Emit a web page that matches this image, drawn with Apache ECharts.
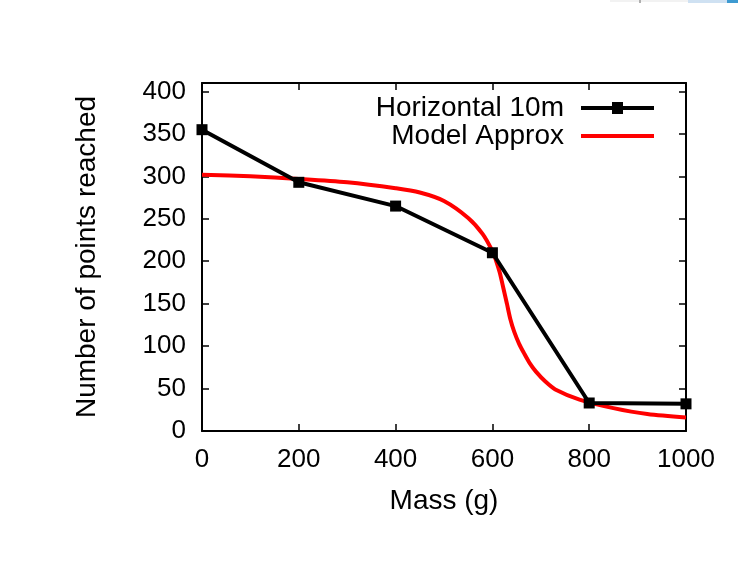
<!DOCTYPE html>
<html>
<head>
<meta charset="utf-8">
<script src="https://cdn.jsdelivr.net/npm/echarts@6/dist/echarts.min.js"></script>
<style>
    html, body { margin: 0; padding: 0; background: #fff; }
    #chart { width: 738px; height: 572px; }
</style>
</head>
<body>
<div id="chart"></div>
<script>
// measured points
let massValues = [0, 200, 400, 600, 800, 1000]
let horizontalValues = [355, 293, 265, 210, 33, 32]

// model curve
let modelMass = [0, 100, 200, 300, 400, 450, 500, 550, 580, 600, 608, 615, 622, 630, 637, 645, 655, 665, 677, 690, 710, 730, 780, 850, 920, 1000]
let modelValues = [302, 300, 297, 293, 286, 281, 271, 251, 232, 212, 200, 187, 170, 150, 132, 117, 103, 92, 80, 70, 58, 49, 37, 27, 20, 16]

let xTicks = [0, 200, 400, 600, 800, 1000]
let yTicks = [0, 50, 100, 150, 200, 250, 300, 350, 400]

let font = 'Liberation Sans, Arial, sans-serif'

function pairs(xs, ys) {
    return xs.map(function (x, i) { return [x, ys[i]] })
}

let chart = echarts.init(document.getElementById('chart'))

let axisBase = {
    type: 'value',
    axisLine: { show: true, onZero: false, lineStyle: { color: '#000', width: 2 } },
    axisTick: { show: true, inside: true, length: 7, lineStyle: { color: '#000', width: 1.5 } },
    splitLine: { show: false }
}

chart.setOption({
    animation: false,
    backgroundColor: '#fff',
    grid: {
        left: 202,
        right: 52,
        top: 83,
        bottom: 141
    },
    legend: {
        orient: 'vertical',
        right: 79,
        top: 89,
        align: 'right',
        itemWidth: 73,
        itemHeight: 28,
        itemGap: 0,
        symbolKeepAspect: true,
        textStyle: {
            fontFamily: font,
            fontSize: 28,
            color: '#000',
            padding: [0, 12, 0, 0]
        },
        data: [
            { name: 'Horizontal 10m', icon: 'path://M0,4 L73,4 L73,8 L0,8 Z M31,0 L42,0 L42,12 L31,12 Z' },
            { name: 'Model Approx', icon: 'path://M0,0 L73,0 L73,4 L0,4 Z' }
        ]
    },
    xAxis: [
        Object.assign({}, axisBase, {
            position: 'bottom',
            min: 0,
            max: 1000,
            interval: 200,
            name: 'Mass (g)',
            nameLocation: 'middle',
            nameGap: 56,
            nameTextStyle: { fontFamily: font, fontSize: 28, color: '#000' },
            axisLabel: {
                fontFamily: font, fontSize: 26, color: '#000', margin: 16,
                formatter: function (v) { return xTicks.indexOf(v) >= 0 ? String(v) : '' }
            }
        }),
        Object.assign({}, axisBase, {
            position: 'top',
            min: 0,
            max: 1000,
            interval: 200,
            axisLabel: { show: false }
        })
    ],
    yAxis: [
        Object.assign({}, axisBase, {
            position: 'left',
            min: 0,
            max: 410,
            interval: 50,
            name: 'Number of points reached',
            nameLocation: 'middle',
            nameGap: 101,
            nameTextStyle: { fontFamily: font, fontSize: 28, color: '#000' },
            axisLabel: {
                fontFamily: font, fontSize: 26, color: '#000', margin: 16,
                showMaxLabel: false,
                formatter: function (v) { return yTicks.indexOf(v) >= 0 ? String(v) : '' }
            }
        }),
        Object.assign({}, axisBase, {
            position: 'right',
            min: 0,
            max: 410,
            interval: 50,
            axisLabel: { show: false }
        })
    ],
    graphic: [
        { type: 'rect', shape: { x: 610, y: 0, width: 78, height: 2 }, style: { fill: '#f2f2f2' } },
        { type: 'rect', shape: { x: 639, y: 0, width: 2, height: 3 }, style: { fill: '#b0b0b0' } },
        { type: 'rect', shape: { x: 688, y: 0, width: 39, height: 3 }, style: { fill: '#cfe1f2' } },
        { type: 'rect', shape: { x: 727, y: 0, width: 11, height: 3 }, style: { fill: '#3d9ad1' } }
    ],
    series: [
        {
            name: 'Horizontal 10m',
            type: 'line',
            data: pairs(massValues, horizontalValues),
            symbol: 'rect',
            symbolSize: 11,
            showAllSymbol: true,
            clip: false,
            z: 3,
            itemStyle: { color: '#000' },
            lineStyle: { color: '#000', width: 4 }
        },
        {
            name: 'Model Approx',
            type: 'line',
            data: pairs(modelMass, modelValues),
            smooth: 0.3,
            showSymbol: false,
            z: 2,
            itemStyle: { color: '#ff0000' },
            lineStyle: { color: '#ff0000', width: 4 }
        }
    ]
})
</script>
</body>
</html>
